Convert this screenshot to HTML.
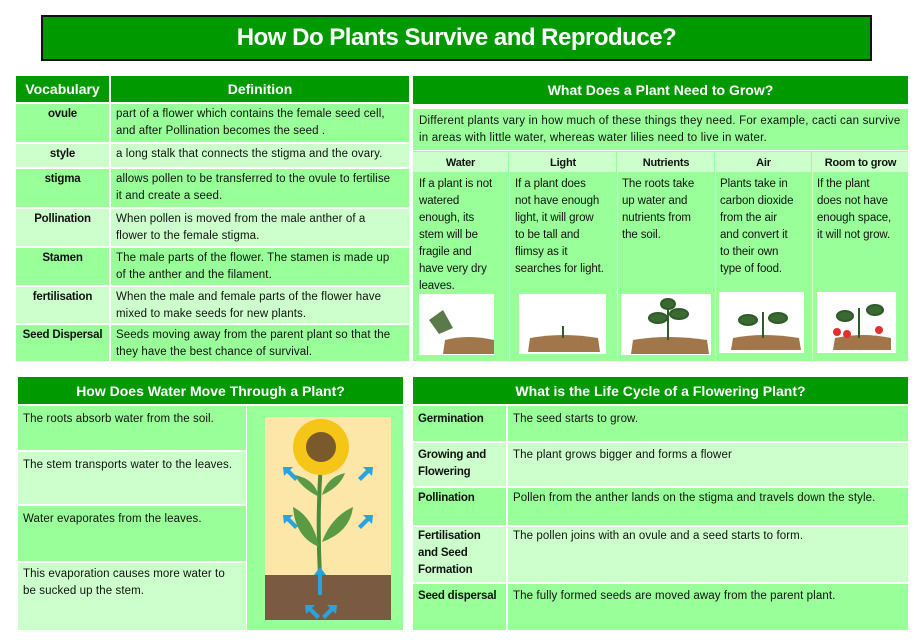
<!DOCTYPE html>
<html><head><meta charset="utf-8"><style>
*{margin:0;padding:0;box-sizing:border-box}
body{width:914px;height:640px;background:#fff;font-family:"Liberation Sans",Arial,sans-serif;position:relative;overflow:hidden;color:#111}
.a{position:absolute}
.h{background:#009900;color:#fff;font-weight:bold;text-align:center;display:flex;align-items:center;justify-content:center}
.d{background:#99ff99}.l{background:#ccffcc}
.t{font-size:11.5px;line-height:17px;padding:2px 5px;letter-spacing:0.1px;white-space:nowrap;overflow:hidden}
.n{font-size:11.5px;line-height:17px;letter-spacing:-0.1px;white-space:nowrap}
.b{font-weight:bold;letter-spacing:-0.2px}
.c{text-align:center}
</style></head><body>
<div class="a h" style="left:41px;top:15px;width:831px;height:46px;border:2px solid #111;font-size:24px;letter-spacing:-0.5px">How Do Plants Survive and Reproduce?</div>

<div class="a h" style="left:16px;top:76px;width:93px;height:26px;font-size:14px">Vocabulary</div>
<div class="a h" style="left:111px;top:76px;width:298px;height:26px;font-size:14px">Definition</div>
<div class="a d t b c" style="left:16px;top:104px;width:93px;height:38px">ovule</div>
<div class="a d t" style="left:111px;top:104px;width:298px;height:38px">part of a flower which contains the female seed cell,<br>and after Pollination becomes the seed .</div>
<div class="a l t b c" style="left:16px;top:144px;width:93px;height:23px">style</div>
<div class="a l t" style="left:111px;top:144px;width:298px;height:23px">a long stalk that connects the stigma and the ovary.</div>
<div class="a d t b c" style="left:16px;top:169px;width:93px;height:38px">stigma</div>
<div class="a d t" style="left:111px;top:169px;width:298px;height:38px">allows pollen to be transferred to the ovule to fertilise<br>it and create a seed.</div>
<div class="a l t b c" style="left:16px;top:209px;width:93px;height:37px">Pollination</div>
<div class="a l t" style="left:111px;top:209px;width:298px;height:37px">When pollen is moved from the male anther of a<br>flower to the female stigma.</div>
<div class="a d t b c" style="left:16px;top:248px;width:93px;height:37px">Stamen</div>
<div class="a d t" style="left:111px;top:248px;width:298px;height:37px">The male parts of the flower. The stamen is made up<br>of the anther and the filament.</div>
<div class="a l t b c" style="left:16px;top:287px;width:93px;height:36px">fertilisation</div>
<div class="a l t" style="left:111px;top:287px;width:298px;height:36px">When the male and female parts of the flower have<br>mixed  to make seeds for new plants.</div>
<div class="a d t b c" style="left:16px;top:325px;width:93px;height:36px;padding:2px 1px">Seed Dispersal</div>
<div class="a d t" style="left:111px;top:325px;width:298px;height:36px">Seeds moving away from the parent plant so that the<br>they have the best chance of survival.</div>

<div class="a h" style="left:413px;top:76px;width:495px;height:28px;font-size:14px">What Does a Plant Need to Grow?</div>
<div class="a d t" style="left:413px;top:109px;width:495px;height:41px;padding:4px 6px;font-size:11.5px;letter-spacing:0.2px">Different plants vary in how much of these things they need. For example, cacti can survive<br>in areas with little water, whereas water lilies need to live in water.</div>
<div class="a d" style="left:413px;top:151px;width:495px;height:210px"></div>
<div class="a l b c" style="left:413px;top:152px;width:95px;height:20px;font-size:11px;line-height:22px">Water</div>
<div class="a l b c" style="left:510px;top:152px;width:106px;height:20px;font-size:11px;line-height:22px">Light</div>
<div class="a l b c" style="left:618px;top:152px;width:96px;height:20px;font-size:11px;line-height:22px">Nutrients</div>
<div class="a l b c" style="left:716px;top:152px;width:95px;height:20px;font-size:11px;line-height:22px">Air</div>
<div class="a l b c" style="left:813px;top:152px;width:95px;height:20px;font-size:11px;line-height:22px">Room to grow</div>
<div class="a" style="left:509px;top:152px;width:1px;height:209px;background:#ccffcc"></div>
<div class="a" style="left:617px;top:152px;width:1px;height:209px;background:#ccffcc"></div>
<div class="a" style="left:715px;top:152px;width:1px;height:209px;background:#ccffcc"></div>
<div class="a" style="left:812px;top:152px;width:1px;height:209px;background:#ccffcc"></div>
<div class="a n" style="left:419px;top:176px">If a plant is not<br>watered<br>enough, its<br>stem will be<br>fragile and<br>have very dry<br>leaves.</div>
<div class="a n" style="left:515px;top:176px">If a plant does<br>not have enough<br>light, it will grow<br>to be tall and<br>flimsy as it<br>searches for light.</div>
<div class="a n" style="left:622px;top:176px">The roots take<br>up water and<br>nutrients from<br>the soil.</div>
<div class="a n" style="left:720px;top:176px">Plants take in<br>carbon dioxide<br>from the air<br>and convert it<br>to their own<br>type of food.</div>
<div class="a n" style="left:817px;top:176px">If the plant<br>does not have<br>enough space,<br>it will not grow.</div>
<svg class="a" style="left:413px;top:290px" width="495" height="68">
<g fill="#fff"><rect x="6" y="4" width="75" height="61"/><rect x="106" y="4" width="87" height="60"/><rect x="208" y="4" width="90" height="61"/><rect x="306" y="2" width="85" height="61"/><rect x="404" y="2" width="79" height="61"/></g>
<g fill="#a0764a"><path d="M30 64 L32 50 Q55 44 81 50 L81 64Z"/><path d="M115 62 L117 48 Q150 42 185 48 L187 62Z"/><path d="M218 64 L220 50 Q255 44 294 50 L296 64Z"/><path d="M318 60 L320 48 Q350 42 386 48 L388 60Z"/><path d="M420 60 L422 48 Q450 42 478 48 L478 60Z"/></g>
<path d="M16 30 L30 20 L40 38 L26 44Z" fill="#5a7a4a"/>
<g stroke="#2f5a2a" stroke-width="2" fill="#3a6a32"><path d="M150 48 V36"/><path d="M255 50 V20" /><ellipse cx="245" cy="28" rx="9" ry="5"/><ellipse cx="266" cy="24" rx="9" ry="5"/><ellipse cx="255" cy="14" rx="7" ry="5"/><path d="M350 48 V22"/><ellipse cx="335" cy="30" rx="9" ry="5"/><ellipse cx="365" cy="28" rx="9" ry="5"/><path d="M446 48 V18"/><ellipse cx="432" cy="26" rx="8" ry="5"/><ellipse cx="462" cy="20" rx="8" ry="5"/></g>
<g fill="#e03030"><circle cx="424" cy="42" r="4"/><circle cx="434" cy="44" r="4"/><circle cx="466" cy="40" r="4"/></g>
</svg>

<div class="a h" style="left:18px;top:377px;width:385px;height:27px;font-size:14px">How Does Water Move Through a Plant?</div>
<div class="a d" style="left:247px;top:406px;width:156px;height:224px"></div>
<div class="a d t" style="left:18px;top:406px;width:228px;height:44px;padding-top:5px">The roots absorb water from the soil.</div>
<div class="a l t" style="left:18px;top:452px;width:228px;height:52px;padding-top:5px">The stem transports water to the leaves.</div>
<div class="a d t" style="left:18px;top:506px;width:228px;height:55px;padding-top:5px">Water evaporates from the leaves.</div>
<div class="a l t" style="left:18px;top:563px;width:228px;height:67px;padding-top:3px">This evaporation causes more water to<br>be sucked up the stem.</div>
<svg class="a" style="left:265px;top:417px" width="126" height="203">
<rect width="126" height="203" fill="#fde7a8"/><rect y="158" width="126" height="45" fill="#7a5a40"/>
<path d="M55 160 Q52 100 56 45" stroke="#4a8a3a" stroke-width="4" fill="none"/>
<g fill="#5a9a44"><path d="M54 130 Q30 120 28 90 Q48 100 54 130Z"/><path d="M57 125 Q85 115 88 90 Q66 100 57 125Z"/><path d="M54 80 Q35 70 30 58 Q50 62 54 80Z"/><path d="M57 78 Q75 70 80 56 Q62 60 57 78Z"/></g>
<circle cx="56" cy="30" r="28" fill="#f5c518"/><circle cx="56" cy="30" r="15" fill="#7a5a2a"/>
<g fill="#29a3e0"><path d="M55 150 l-6 8 h4 v20 h4 v-20 h4z"/><path d="M18 50 l10 0 -3 3 8 8 -3 3 -8 -8 -3 3z"/><path d="M108 50 l-10 0 3 3 -8 8 3 3 8 -8 3 3z"/><path d="M18 98 l10 0 -3 3 8 8 -3 3 -8 -8 -3 3z"/><path d="M108 98 l-10 0 3 3 -8 8 3 3 8 -8 3 3z"/><path d="M40 188 l10 0 -3 3 8 8 -3 3 -8 -8 -3 3z"/><path d="M72 188 l-10 0 3 3 -8 8 3 3 8 -8 3 3z"/></g>
</svg>

<div class="a h" style="left:413px;top:377px;width:495px;height:27px;font-size:14px">What is the Life Cycle of a Flowering Plant?</div>
<div class="a d t b" style="left:413px;top:406px;width:93px;height:35px;padding-top:5px">Germination</div>
<div class="a d t" style="left:508px;top:406px;width:400px;height:35px;padding-top:5px">The seed starts to grow.</div>
<div class="a l t b" style="left:413px;top:443px;width:93px;height:43px;padding-top:4px">Growing and<br>Flowering</div>
<div class="a l t" style="left:508px;top:443px;width:400px;height:43px;padding-top:4px">The plant grows bigger and forms a flower</div>
<div class="a d t b" style="left:413px;top:488px;width:93px;height:37px;padding-top:2px">Pollination</div>
<div class="a d t" style="left:508px;top:488px;width:400px;height:37px;padding-top:2px">Pollen from the anther lands on the stigma and travels down the style.</div>
<div class="a l t b" style="left:413px;top:527px;width:93px;height:55px;padding-top:1px">Fertilisation<br>and Seed<br>Formation</div>
<div class="a l t" style="left:508px;top:527px;width:400px;height:55px;padding-top:1px">The pollen joins with an ovule and a seed starts to form.</div>
<div class="a d t b" style="left:413px;top:584px;width:93px;height:46px;padding:4px 5px">Seed dispersal</div>
<div class="a d t" style="left:508px;top:584px;width:400px;height:46px;padding-top:4px">The fully formed seeds are moved away from the parent plant.</div>
</body></html>
